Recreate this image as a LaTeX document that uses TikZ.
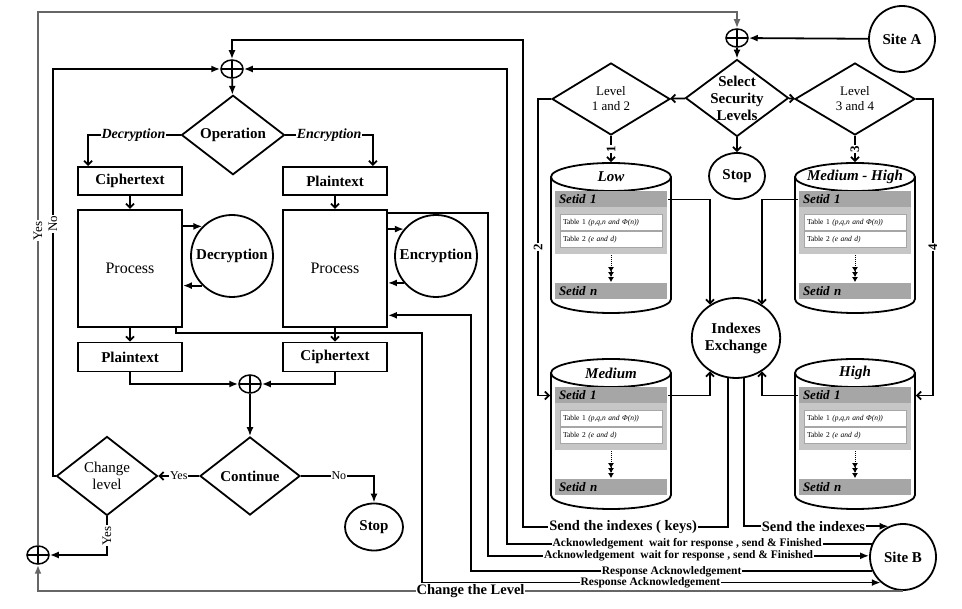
\documentclass[tikz,border=0pt]{standalone}
\usepackage{fontspec}
\setmainfont{Liberation Serif}
\usetikzlibrary{arrows.meta,positioning,shapes.geometric,calc}

% store drawn as a can: name, x, y, title
\newcommand{\dbstore}[4]{%
  \draw[fill=white] (#2-60,#3) -- (#2-60,#3+122)
    arc[start angle=180, end angle=0, x radius=60, y radius=14] -- (#2+60,#3);
  \node[dbtop] (#1) at (#2,#3) {\makebox[0pt]{#4}};
  \node[setpanel] (#1-p) at (#2,#3+46) {};
  \node[setbar, anchor=north] (#1-s1) at (#1-p.north) {Setid 1};
  \node[tabrow, below=6pt of #1-s1] (#1-t1) {Table 1 \textit{(p,q,n and Φ(n))}};
  \node[tabrow, below=0pt of #1-t1] (#1-t2) {Table 2 \textit{(e and d)}};
  \node[setbar] (#1-sn) at (#2,#3+114) {Setid n};
  \draw[dotarrow] (#1-p.south) -- (#1-sn.north);
}

\begin{document}
\begin{tikzpicture}[
  x=1pt, y=-1pt,
  line width=1.8pt,
  node distance=13pt,
  box/.style={rectangle, draw, minimum width=104, minimum height=28, inner sep=2pt, font=\fontsize{15}{17}\selectfont\bfseries},
  procbox/.style={rectangle, draw, minimum width=104, minimum height=117, font=\fontsize{16}{18}\selectfont},
  bubble/.style={circle, draw, inner sep=0pt, align=center, font=\fontsize{15}{17}\selectfont\bfseries},
  oval/.style={ellipse, draw, inner sep=0pt, align=center, font=\fontsize{15}{17}\selectfont\bfseries},
  decision/.style={diamond, draw, inner sep=0pt, align=center, font=\fontsize{15}{17}\selectfont\bfseries},
  xor/.style={ellipse, draw, minimum width=22, minimum height=18, inner sep=0pt, line width=1.5pt,
    path picture={\draw[line width=1.5pt] (path picture bounding box.north) -- (path picture bounding box.south)
      (path picture bounding box.west) -- (path picture bounding box.east);}},
  dbtop/.style={ellipse, draw, fill=white, minimum width=120, minimum height=28, inner sep=0pt, font=\fontsize{15}{17}\selectfont\bfseries\itshape},
  setpanel/.style={rectangle, fill=gray!45, minimum width=112, minimum height=63, inner sep=0pt},
  setbar/.style={rectangle, fill=gray!70, minimum height=16, text width=104, inner xsep=4pt, inner ysep=0pt, align=left, font=\fontsize{13}{14}\selectfont\bfseries\itshape},
  tabrow/.style={rectangle, draw=gray!70, line width=0.8pt, fill=white, minimum height=16, text width=96, inner xsep=3pt, inner ysep=0pt, align=left, font=\fontsize{7.5}{8}\selectfont},
  arr/.style={-{Latex[length=9pt,width=7pt]}},
  barb/.style={-{Straight Barb[length=4pt,width=8pt]}},
  dotarrow/.style={densely dotted, line width=1pt, -{Latex[length=5pt,width=6pt] Latex[length=5pt,width=6pt] Latex[length=5pt,width=6pt]}},
  frame/.style={draw=black!60, line width=2.2pt},
  lbl/.style={fill=white, inner xsep=1pt, inner ysep=0pt, font=\fontsize{11.5}{13}\selectfont\bfseries},
  biglbl/.style={fill=white, inner xsep=1pt, inner ysep=0pt, font=\fontsize{14.5}{16}\selectfont\bfseries},
  ital/.style={fill=white, inner sep=1pt, font=\fontsize{14}{16}\selectfont\bfseries\itshape},
  yn/.style={fill=white, inner sep=1pt, font=\fontsize{12}{14}\selectfont},
  vlbl/.style={fill=white, inner sep=1pt, rotate=90, font=\fontsize{13}{15}\selectfont},
  vnum/.style={fill=white, inner sep=1pt, rotate=90, font=\fontsize{13}{15}\selectfont\bfseries}
]
\useasboundingbox (0,0) rectangle (962,609);

% bus lines
\coordinate (yesBus) at (38,12);
\coordinate (noBus) at (53,0);
\coordinate (keyTurn) at (523,527);
\coordinate (keyTop) at (523,40);
\coordinate (ackBus1) at (507,0);
\coordinate (ackBus2) at (488,0);
\coordinate (respBus1) at (471,0);
\coordinate (respBus2) at (422,333);

% site A side
\node[xor] (opR) at (737,38) {};
\node[bubble, minimum size=66] (siteA) at (902,39) {Site A};
\node[decision, minimum width=103, minimum height=77, text width=56, inner sep=-8pt,
  font=\fontsize{15}{17}\selectfont\bfseries] (sel) at (737,98) {Select\\Security\\Levels};
\node[decision, minimum width=118, minimum height=72, font=\fontsize{13}{15}\selectfont] (l12) at (611,99) {Level\\1 and 2};
\node[decision, minimum width=120, minimum height=72, font=\fontsize{13}{15}\selectfont] (l34) at (855,99) {Level\\3 and 4};
\node[oval, minimum width=56, minimum height=46] (stopR) at (737,176) {Stop};

\dbstore{low}{611}{177}{Low}
\dbstore{mh}{855}{177}{Medium - High}
\dbstore{med}{611}{373}{Medium}
\dbstore{high}{855}{373}{High}

\node[oval, minimum width=88, minimum height=80] (ie) at (736,338) {Indexes\\Exchange};
\node[bubble, minimum size=66] (siteB) at (903,557) {Site B};

% operation side
\node[xor] (opL) at (232,69) {};
\node[decision, minimum width=103, minimum height=75] (op) at (233,135) {Operation};
\node[box] (ctxt) at (130,181) {Ciphertext};
\node[box] (ptxt) at (335,181) {Plaintext};
\node[procbox, below=of ctxt] (dproc) {Process};
\node[procbox, below=of ptxt] (eproc) {Process};
\node[bubble, minimum size=82] (dcir) at (232,256) {Decryption};
\node[bubble, minimum size=82] (ecir) at (436,256) {Encryption};
\node[box, minimum height=29, below=14pt of dproc] (pout) {Plaintext};
\node[box, minimum height=29, below=14pt of eproc] (cout) {Ciphertext};
\node[xor] (opM) at (250,384) {};
\node[decision, minimum width=100, minimum height=78] (cont) at (250,476) {Continue};
\node[decision, minimum width=101, minimum height=79, font=\fontsize{15}{17}\selectfont] (chg) at (107,476) {Change\\level};
\node[oval, minimum width=58, minimum height=47] (stopL) at (374,527) {Stop};
\node[xor] (opB) at (38,555) {};

\coordinate (ackOut) at ([yshift=-4pt]eproc.north east);
\coordinate (respIn) at ([yshift=-47pt]eproc.east);
\coordinate (respOut) at ([xshift=-7pt]dproc.south east);

% left flow
\draw[arr] (opL) -- (op);
\draw[barb] (op.west) -| node[ital, pos=0.255]{Decryption} ([xshift=11pt]ctxt.north west);
\draw[barb] (op.east) -| node[ital, pos=0.25]{Encryption} ([xshift=-15pt]ptxt.north east);
\draw[barb] (ctxt) -- (dproc);
\draw[barb] (ptxt) -- (eproc);
\draw[arr] (dcir.135 -| dproc.east) -- (dcir.135);
\draw[arr] (dcir.225) -- (dcir.225 -| dproc.east);
\draw[arr] (ecir.140 -| eproc.east) -- (ecir.140);
\draw[arr] (ecir.220) -- (ecir.220 -| eproc.east);
\draw[barb] (dproc) -- (pout);
\draw[barb] (eproc) -- (cout);
\draw[arr] (pout) |- (opM);
\draw[arr] (cout) |- (opM);
\draw[arr] (opM) -- (cont);
\draw[barb] (cont) -- node[yn]{Yes} (chg);
\draw[arr] (cont) -| node[yn, pos=0.26]{No} (stopL);
\draw[arr] (chg.west) -| node[vlbl, pos=0.81]{No} (opL -| noBus) -- (opL);
\draw[arr] (chg.south) |- node[vlbl, pos=0.25]{Yes} (opB);

% outer loop
\draw[frame, arr] (opB) -- node[vlbl, pos=0.59]{Yes} (yesBus) -| (opR);
\draw[frame, arr] (siteB.south) -- node[biglbl]{Change the Level} (siteB.south -| yesBus) -- (opB);

% security levels
\draw[arr] (siteA) -- (opR);
\draw[arr] (opR) -- (sel);
\draw[barb] (sel) -- (l12);
\draw[barb] (sel) -- (l34);
\draw[barb] (sel) -- (stopR);
\draw[barb] (l12) -- node[vnum]{1} (low);
\draw[barb] (l34) -- node[vnum]{3} (mh);
\draw[barb, shorten >=4pt] (l12.west) -- ++(-13,0) |- node[vnum, pos=0.25]{2} (med-s1.west);
\draw[barb, shorten >=4pt] (l34.east) -- ++(17,0) |- node[vnum, pos=0.25]{4} (high-s1.east);
\draw[barb] (low-s1.east) -| (ie.128);
\draw[barb] (mh-s1.west) -| (ie.52);
\draw[barb] (med-s1.east) -| (ie.232);
\draw[barb] (high-s1.west) -| (ie.308);

% messages to site B
\draw[arr] (ie.259) |- node[biglbl, pos=0.756]{Send the indexes ( keys)} (keyTurn) -- (keyTop) -| (opL);
\draw[arr] (ie.281) |- node[biglbl, pos=0.74]{Send the indexes} (siteB.115);
\draw[arr] (siteB.157) -| node[lbl, pos=0.253]{Acknowledgement \ wait for response , send \& Finished} (opL -| ackBus1) -- (opL);
\draw[arr] (ackOut) -| (siteB.178 -| ackBus2) -- node[lbl]{Acknowledgement \ wait for response , send \& Finished} (siteB.178);
\draw[arr] (siteB.205) -| node[lbl, pos=0.25]{Response Acknowledgement} (respIn -| respBus1) -- (respIn);
\draw[arr] (respOut) |- (respBus2) |- node[lbl, pos=0.749]{Response Acknowledgement} (siteB.229);

\end{tikzpicture}
\end{document}
